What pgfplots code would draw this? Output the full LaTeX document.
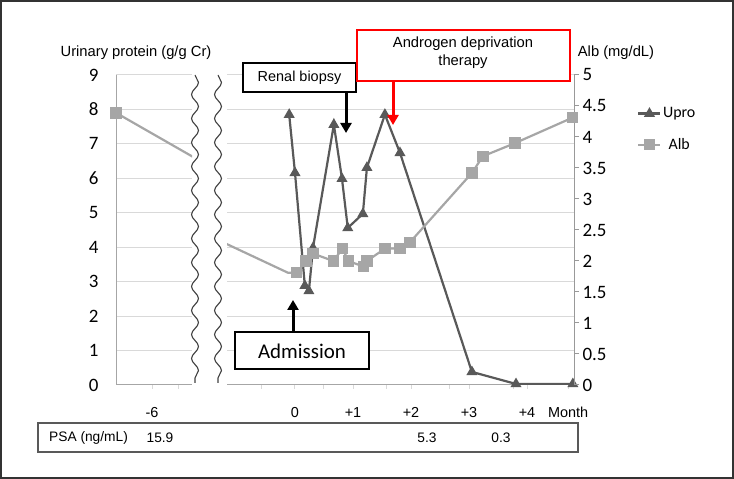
\documentclass[border=0pt]{standalone}
\usepackage{pgfplots}
\usepackage{pgfplotstable}
\pgfplotsset{compat=1.18}
\usepackage{fontspec}
\setmainfont{Liberation Sans}
\newfontfamily\carlito{Carlito}
\usetikzlibrary{arrows.meta,decorations.pathmorphing}

\definecolor{upro}{HTML}{595959}
\definecolor{alb}{HTML}{A6A6A6}
\definecolor{gridc}{HTML}{D9D9D9}
\definecolor{axc}{HTML}{A6A6A6}
\definecolor{raxc}{HTML}{999999}

% month, urinary protein (g/g Cr)
\pgfplotstableread{
m v
-0.10 7.85
0.00 6.16
0.17 2.88
0.24 2.73
0.31 3.98
0.67 7.56
0.81 5.99
0.91 4.56
1.17 4.97
1.24 6.31
1.55 7.85
1.81 6.74
3.05 0.38
3.81 0.03
4.79 0.03
}\uprodata

% month, albumin (mg/dL)
\pgfplotstableread{
m v
-6.00 4.39
-0.12 1.81
0.03 1.81
0.19 2.00
0.31 2.12
0.66 2.00
0.82 2.20
0.92 2.00
1.18 1.91
1.24 2.00
1.55 2.20
1.81 2.20
1.98 2.30
3.05 3.42
3.24 3.69
3.79 3.90
4.78 4.31
}\albdata

\tikzset{xlab/.style={font=\fontsize{14.5}{14.5}\selectfont, yshift=-15bp}}
\pgfplotsset{
  upro/.style={color=upro, line width=2.2bp, mark=triangle*, mark size=4.2bp, mark options={solid}},
  alb/.style={color=alb, line width=2.2bp, mark=square*, mark size=4.6bp, mark options={solid}},
  panel/.style={anchor=south west, scale only axis, height=310bp,
    /pgf/number format/assume math mode=true,
    tick align=outside},
}

\begin{document}
\begin{tikzpicture}[x=1bp,y=1bp]
\useasboundingbox (0,0) rectangle (734,479);
\draw[line width=2bp, black!80] (1,1) rectangle (733,478);

% left panel (month -6)
\begin{axis}[panel, at={(116bp,94bp)}, width=76bp,
  xmin=-6, xmax=-4.4, ymin=0, ymax=9,
  axis x line*=bottom, axis y line*=left,
  axis line style={draw=axc, line width=1bp},
  ytick={0,...,9}, ymajorgrids, grid style={draw=gridc, line width=1bp},
  ytick style={draw=none},
  yticklabel style={font=\carlito\fontsize{19}{19}\selectfont, xshift=-10bp},
  xtick={-4.69}, xticklabels={}, xtick style={draw=gridc, line width=1bp}, major tick length=4bp,
  extra x ticks={-5.24}, extra x tick labels={-6},
  extra x tick style={tick style={draw=none}, xticklabel style={xlab}},
]
\end{axis}
\begin{axis}[panel, at={(116bp,94bp)}, width=76bp,
  xmin=-6, xmax=-4.4, ymin=0, ymax=5, axis lines=none]
\addplot[alb, mark indices={1}] table {\albdata};
\end{axis}

% right panel (months 0 to +4)
\begin{axis}[panel, at={(227bp,94bp)}, width=347bp,
  xmin=-1.172, xmax=4.81, ymin=0, ymax=9,
  axis x line*=bottom, axis y line*=left,
  x axis line style={draw=axc, line width=1bp}, y axis line style={draw=none},
  ytick={0,...,9}, yticklabels={}, ytick style={draw=none},
  ymajorgrids, grid style={draw=gridc, line width=1bp},
  xtick={-0.569,0.5,1.586,2.672,3.759}, xticklabels={},
  xtick style={draw=gridc, line width=1bp}, major tick length=4bp,
  extra x ticks={0,1,2,3,4,4.71}, extra x tick labels={0,+1,+2,+3,+4,Month},
  extra x tick style={tick style={draw=none}, xticklabel style={xlab}},
]
\addplot[upro] table {\uprodata};
\end{axis}
\begin{axis}[panel, at={(227bp,94bp)}, width=347bp,
  xmin=-1.172, xmax=4.81, ymin=0, ymax=5,
  axis x line=none, axis y line*=right,
  y axis line style={draw=raxc, line width=1bp},
  ytick={0,0.5,1,1.5,2,2.5,3,3.5,4,4.5,5},
  ytick style={draw=raxc, line width=1bp}, major tick length=5bp,
  yticklabel style={font=\carlito\fontsize{19}{19}\selectfont},
  legend style={at={(1.182,0.9)}, anchor=north west, draw=none, fill=none,
    font=\carlito\fontsize{16}{16}\selectfont, row sep=16bp, inner sep=0pt,
    nodes={inner sep=1.5bp}},
  legend image code/.code={\draw[mark repeat=2,mark phase=2,#1]
    plot coordinates {(0bp,0bp) (11bp,0bp) (22bp,0bp)};},
]
\addlegendimage{upro}
\addlegendentry{Upro}
\addplot[alb, mark phase=2] table {\albdata};
\addlegendentry{Alb}
\end{axis}

% axis break
\draw[black!75, line width=1.1bp, decorate, decoration={snake, segment length=24bp, amplitude=3.5bp}] (195,404) -- (195,96);
\draw[black!75, line width=1.1bp, decorate, decoration={snake, segment length=24bp, amplitude=3.5bp}] (218,404) -- (218,96);

% titles
\node[font=\fontsize{14.8}{14.8}\selectfont] at (136,426) {Urinary protein (g/g Cr)};
\node[font=\fontsize{14.8}{14.8}\selectfont] at (616,426) {Alb (mg/dL)};

% annotations
\draw[line width=2.5bp, fill=white] (243,387) rectangle (356,416);
\node[font=\fontsize{14.5}{14.5}\selectfont] at (299.5,401.5) {Renal biopsy};
\draw[line width=3bp, -{Triangle[width=11bp,length=10bp]}] (346,387) -- (346,346);

\draw[red, line width=2.5bp, fill=white] (357,398) rectangle (570,449);
\node[font=\fontsize{14.8}{18}\selectfont, align=center] at (463,426) {Androgen deprivation\\therapy};
\draw[red, line width=3bp, -{Triangle[width=11bp,length=10bp]}] (393,398) -- (393,354);

\draw[line width=2.5bp, fill=white] (235,110) rectangle (369,147);
\node[font=\carlito\fontsize{21}{21}\selectfont] at (302,128) {Admission};
\draw[line width=3bp, -{Triangle[width=11bp,length=10bp]}] (293,147) -- (293,179);

% PSA row
\draw[draw=upro, line width=1.3bp] (38,27) rectangle (578,56);
\begin{scope}[font=\fontsize{13.8}{13.8}\selectfont]
\node[anchor=west, inner sep=0pt] at (49,41) {PSA (ng/mL)};
\node at (160,41) {15.9};
\node at (427,41) {5.3};
\node at (501,41) {0.3};
\end{scope}
\end{tikzpicture}
\end{document}
